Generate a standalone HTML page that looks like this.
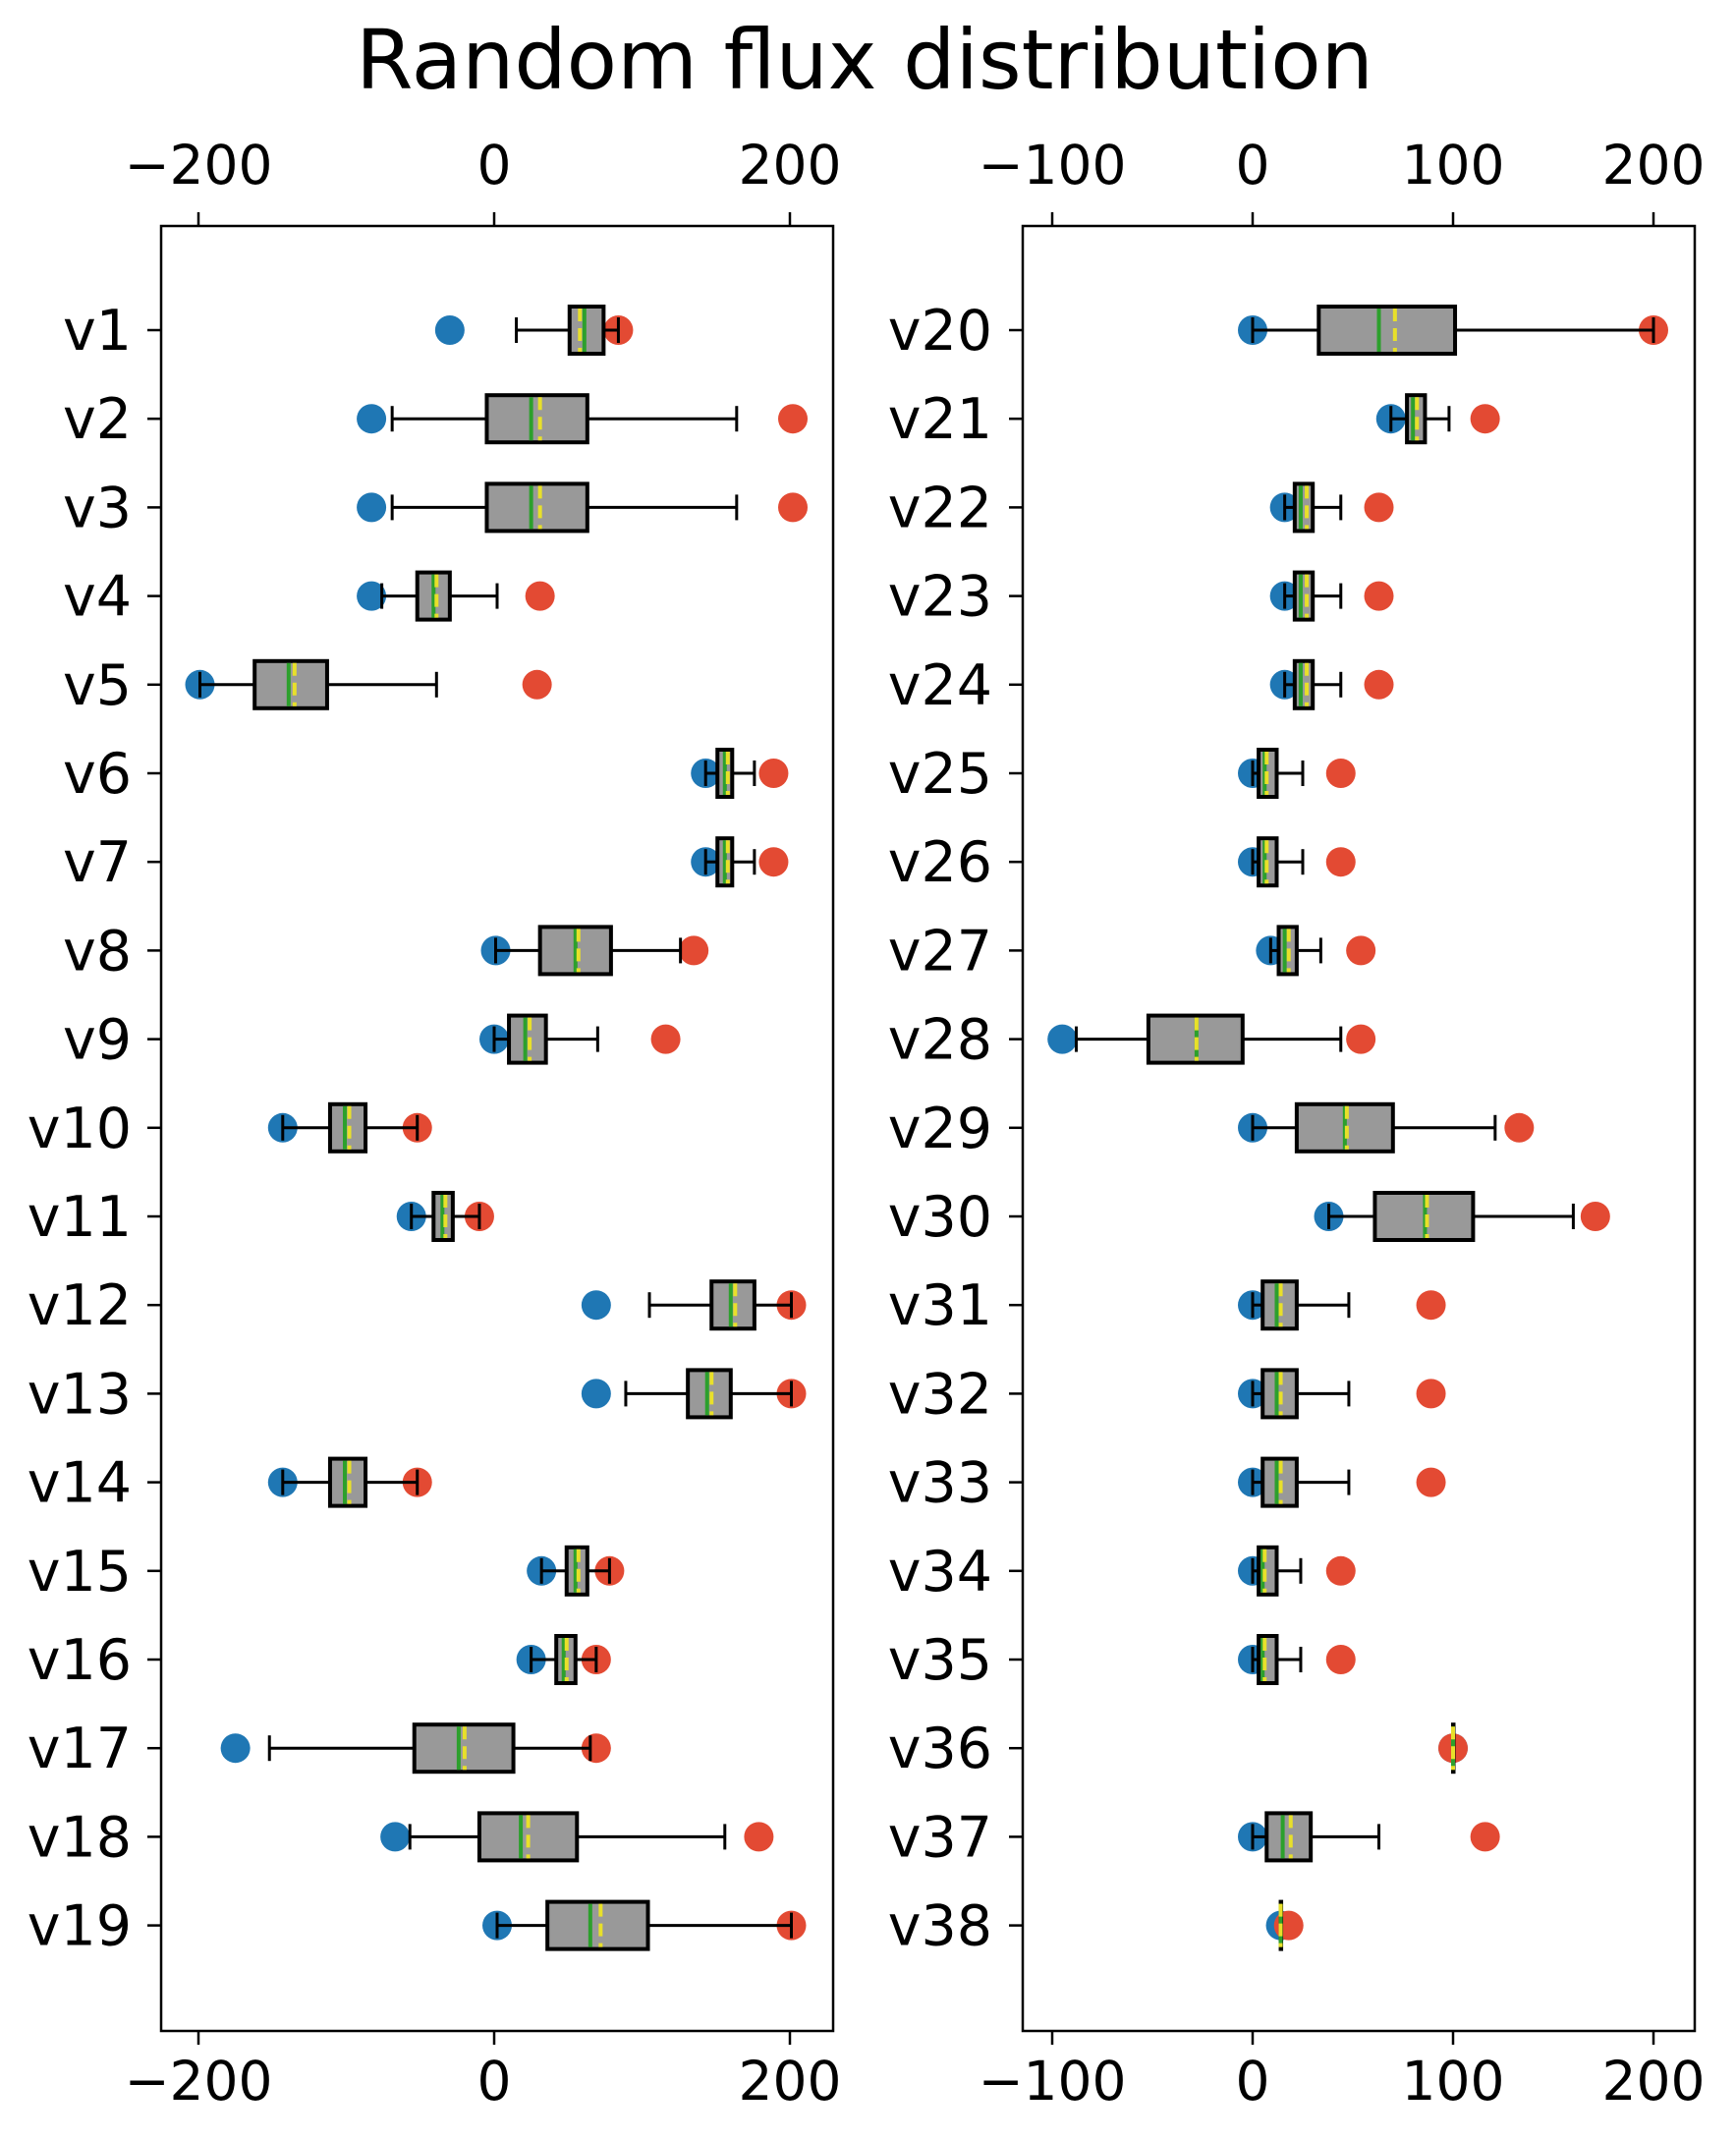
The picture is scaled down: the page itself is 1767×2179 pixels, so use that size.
<!DOCTYPE html>
<html><head><meta charset="utf-8"><style>
html,body{margin:0;padding:0;background:#fff}
svg{display:block}
text{font-family:"DejaVu Sans","Liberation Sans",sans-serif;fill:#000}
</style></head><body>
<svg id="chart" width="1767" height="2179" viewBox="0 0 1767 2179" xmlns="http://www.w3.org/2000/svg">
<text x="880" y="90" font-size="84" text-anchor="middle">Random flux distribution</text>
<g id="panelL"></g>
<g id="panelR"></g>
</svg>
<script>
const catsL = ["v1","v2","v3","v4","v5","v6","v7","v8","v9","v10","v11","v12","v13","v14","v15","v16","v17","v18","v19"];
const minL  = [-30,-83,-83,-83,-199,143,143,1,0,-143,-56,69,69,-143,32,25,-175,-67,2];
const wloL  = [15,-69,-69,-76,-199,143,143,1,0,-143,-56,105,89,-143,32,25,-152,-57,2];
const q1L   = [51,-5,-5,-52,-162,151,151,31,10,-111,-41,147,131,-111,49,42,-54,-10,36];
const medL  = [61,25,25,-41,-139,156,156,55,21,-101,-35,160,144,-101,55,47,-24,18,65];
const meanL = [58,31,31,-39,-135,158,158,57,24,-98,-33,163,147,-98,57,49,-20,23,72];
const q3L   = [74,63,63,-30,-113,161,161,79,35,-87,-28,176,160,-87,63,55,13,56,104];
const whiL  = [84,164,164,2,-39,176,176,126,70,-52,-10,201,201,-52,78,69,65,156,201];
const maxL  = [84,202,202,31,29,189,189,135,116,-52,-10,201,201,-52,78,69,69,179,201];
const ticksL = [-200,0,200];

const catsR = ["v20","v21","v22","v23","v24","v25","v26","v27","v28","v29","v30","v31","v32","v33","v34","v35","v36","v37","v38"];
const minR  = [0,69,16,16,16,0,0,9,-95,0,38,0,0,0,0,0,100,0,14];
const wloR  = [0,69,16,16,16,0,0,9,-88,0,38,0,0,0,0,0,100,0,14];
const q1R   = [33,77,21,21,21,3,3,13,-52,22,61,5,5,5,3,3,100,7,14];
const medR  = [63,80,24,24,24,6,6,16,-28,46,86,12,12,12,5,5,100,15,14];
const meanR = [71,82,27,27,27,7,7,18,-28,47,87,14,14,14,6,6,100,19,14];
const q3R   = [101,86,30,30,30,12,12,22,-5,70,110,22,22,22,12,12,100,29,14];
const whiR  = [200,98,44,44,44,25,25,34,44,121,160,48,48,48,24,24,100,63,14];
const maxR  = [200,116,63,63,63,44,44,54,54,133,171,89,89,89,44,44,100,116,18];
const ticksR = [-100,0,100,200];

const NS="http://www.w3.org/2000/svg";
function el(parent,tag,attrs){const e=document.createElementNS(NS,tag);for(const k in attrs)e.setAttribute(k,attrs[k]);parent.appendChild(e);return e;}

function panel(g,cfg){
  const {x0,x1,zero,ppu,cats,mn,wlo,q1,med,mean,q3,whi,mx,ticks,labelRight}=cfg;
  const top=230,bot=2067,y0=336,dy=90.2;
  const X=v=>zero+v*ppu, Y=i=>y0+i*dy;
  const frame=el(g,'rect',{x:x0,y:top,width:x1-x0,height:bot-top,fill:'none',stroke:'#000','stroke-width':2.5});
  
  
  ticks.forEach(t=>{
    const tx=X(t);
    const lab=t<0?'\u2212'+Math.abs(t):String(t);
    const a=el(g,'line',{x1:tx,x2:tx,y1:top,y2:top-14,stroke:'#000','stroke-width':2.5});
    
    
    const b=el(g,'line',{x1:tx,x2:tx,y1:bot,y2:bot+14,stroke:'#000','stroke-width':2.5});
    
    
    const tt=el(g,'text',{x:tx,y:187,'font-size':55,'text-anchor':'middle'});tt.textContent=lab;
    
    
    const tb=el(g,'text',{x:tx,y:2137,'font-size':55,'text-anchor':'middle'});tb.textContent=lab;
    
    
  });
  cats.forEach((c,i)=>{
    const y=Y(i);
    const tk=el(g,'line',{x1:x0,x2:x0-14,y1:y,y2:y,stroke:'#000','stroke-width':2.5});
    
    
    const lt=el(g,'text',{x:labelRight,y:y+20,'font-size':57,'text-anchor':'end'});lt.textContent=c;
    
    
    const b=el(g,'g',{});
    
    
    const dmin=el(b,'circle',{cx:X(mn[i]),cy:y,r:15,fill:'#1f77b4'});
    
    
    const dmax=el(b,'circle',{cx:X(mx[i]),cy:y,r:15,fill:'#e34a33'});
    
    
    const wl=el(b,'line',{x1:X(wlo[i]),x2:X(q1[i]),y1:y,y2:y,stroke:'#000','stroke-width':3});
    
    
    const wh=el(b,'line',{x1:X(q3[i]),x2:X(whi[i]),y1:y,y2:y,stroke:'#000','stroke-width':3});
    
    
    const c1=el(b,'line',{x1:X(wlo[i]),x2:X(wlo[i]),y1:y-13,y2:y+13,stroke:'#000','stroke-width':3});
    
    
    const c2=el(b,'line',{x1:X(whi[i]),x2:X(whi[i]),y1:y-13,y2:y+13,stroke:'#000','stroke-width':3});
    
    
    const bx=el(b,'rect',{x:X(q1[i]),y:y-24,width:Math.max(X(q3[i])-X(q1[i]),0.5),height:48,fill:'#999999',stroke:'#000','stroke-width':4});
    
    
    const md=el(b,'line',{x1:X(med[i]),x2:X(med[i]),y1:y-22,y2:y+22,stroke:'#2ca02c','stroke-width':4});
    
    
    const me=el(b,'line',{x1:X(mean[i]),x2:X(mean[i]),y1:y-22,y2:y+22,stroke:'#e8e02a','stroke-width':4,'stroke-dasharray':'13,7'});
    
    
  });
}
panel(document.getElementById('panelL'),{x0:164,x1:848,zero:503,ppu:1.505,cats:catsL,mn:minL,wlo:wloL,q1:q1L,med:medL,mean:meanL,q3:q3L,whi:whiL,mx:maxL,ticks:ticksL,labelRight:134});
panel(document.getElementById('panelR'),{x0:1041,x1:1725,zero:1275,ppu:2.04,cats:catsR,mn:minR,wlo:wloR,q1:q1R,med:medR,mean:meanR,q3:q3R,whi:whiR,mx:maxR,ticks:ticksR,labelRight:1010});
</script>
</body></html>
